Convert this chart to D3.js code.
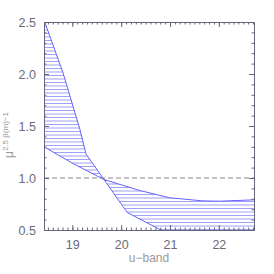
<!DOCTYPE html>
<meta charset="utf-8">
<style>

body {
  margin: 0;
  background: #fff;
}

text {
  font-family: "Liberation Sans", Arial, sans-serif;
}

</style>
<body>
<script src="https://d3js.org/d3.v7.min.js"></script>
<script>

// Curve A starts high on the left, curve B starts low; they cross near u=19.65
var curveAX = [18.42, 18.81, 19.16, 19.28, 19.65, 20.12, 20.85, 22.72];
var curveAY = [2.52, 2.01, 1.46, 1.23, 0.985, 0.67, 0.49, 0.30];
var curveBX = [18.42, 19.01, 19.65, 20.38, 20.99, 21.67, 22.02, 22.72];
var curveBY = [1.30, 1.14, 0.985, 0.88, 0.81, 0.78, 0.777, 0.79];

var xTicks = [19, 20, 21, 22];
var yTicks = [0.5, 1.0, 1.5, 2.0, 2.5];
var refLine = 1.0;

var width = 274, height = 274;
var plot = {left: 44, right: 254, top: 22, bottom: 230};

var x = d3.scaleLinear().domain([18.42, 22.72]).range([plot.left, plot.right]);
var y = d3.scaleLinear().domain([0.5, 2.5]).range([plot.bottom, plot.top]);

var axisColor = "#666677";

var svg = d3.select("body").append("svg")
            .attr("width", width)
            .attr("height", height);

var defs = svg.append("defs");
defs.append("clipPath").attr("id", "plotclip")
    .append("rect")
      .attr("x", plot.left).attr("y", plot.top)
      .attr("width", plot.right - plot.left)
      .attr("height", plot.bottom - plot.top);

var ptsA = curveAX.map(function(d, i) { return [x(d), y(curveAY[i])]; });
var ptsB = curveBX.map(function(d, i) { return [x(d), y(curveBY[i])]; });
var polygon = ptsA.concat(ptsB.slice().reverse());

defs.append("clipPath").attr("id", "bandclip")
    .append("path")
      .attr("d", "M" + polygon.join("L") + "Z");

var g = svg.append("g").attr("clip-path", "url(#plotclip)");

// horizontal line fill between the curves
var hatch = d3.range(plot.top + 1, plot.bottom, 3.5);
g.append("g")
  .attr("clip-path", "url(#bandclip)")
  .selectAll("line")
  .data(hatch)
  .enter().append("line")
    .attr("x1", plot.left).attr("x2", plot.right)
    .attr("y1", function(d) { return d; })
    .attr("y2", function(d) { return d; })
    .attr("stroke", "#a0a0ff")
    .attr("stroke-width", 1);

var line = d3.line();
g.append("path").attr("d", line(ptsA))
  .attr("fill", "none").attr("stroke", "#6262ff").attr("stroke-width", 1);
g.append("path").attr("d", line(ptsB))
  .attr("fill", "none").attr("stroke", "#6262ff").attr("stroke-width", 1);

// dashed reference line
g.append("line")
  .attr("x1", plot.left).attr("x2", plot.right)
  .attr("y1", y(refLine)).attr("y2", y(refLine))
  .attr("stroke", "#888888")
  .attr("stroke-dasharray", "5,3");

// axes: ticks pointing inward on all four sides
function addAxis(axis, transform) {
  svg.append("g")
    .attr("transform", transform)
    .call(axis)
    .call(function(sel) {
      sel.select(".domain").attr("stroke", axisColor);
      sel.selectAll(".tick line").attr("stroke", axisColor);
      sel.selectAll(".tick text").attr("fill", "#6a6a78")
         .style("font-size", "12.5px");
    });
}

var xMinor = d3.range(18.5, 22.71, 0.1).map(function(d) { return +d.toFixed(1); });
var yMinor = d3.range(0.5, 2.51, 0.1).map(function(d) { return +d.toFixed(1); });

// minor ticks first
addAxis(d3.axisBottom(x).tickValues(xMinor).tickSize(-2.5).tickSizeOuter(0).tickFormat(""),
        "translate(0," + plot.bottom + ")");
addAxis(d3.axisTop(x).tickValues(xMinor).tickSize(-2.5).tickSizeOuter(0).tickFormat(""),
        "translate(0," + plot.top + ")");
addAxis(d3.axisLeft(y).tickValues(yMinor).tickSize(-2.5).tickSizeOuter(0).tickFormat(""),
        "translate(" + plot.left + ",0)");
addAxis(d3.axisRight(y).tickValues(yMinor).tickSize(-2.5).tickSizeOuter(0).tickFormat(""),
        "translate(" + plot.right + ",0)");

// major ticks with labels
addAxis(d3.axisBottom(x).tickValues(xTicks).tickSize(-5).tickSizeOuter(0).tickPadding(10)
          .tickFormat(d3.format("d")),
        "translate(0," + plot.bottom + ")");
addAxis(d3.axisTop(x).tickValues(xTicks).tickSize(-5).tickSizeOuter(0).tickFormat(""),
        "translate(0," + plot.top + ")");
addAxis(d3.axisLeft(y).tickValues(yTicks).tickSize(-5).tickSizeOuter(0).tickPadding(8)
          .tickFormat(d3.format(".1f")),
        "translate(" + plot.left + ",0)");
addAxis(d3.axisRight(y).tickValues(yTicks).tickSize(-5).tickSizeOuter(0).tickFormat(""),
        "translate(" + plot.right + ",0)");

// axis titles
svg.append("text")
   .attr("x", (plot.left + plot.right) / 2)
   .attr("y", 262)
   .attr("text-anchor", "middle")
   .attr("fill", "#999999")
   .style("font-size", "12px")
   .text("u\u2212band");

var ylab = svg.append("text")
   .attr("transform", "translate(13,135) rotate(-90)")
   .attr("text-anchor", "middle")
   .attr("fill", "#999999")
   .style("font-size", "12px");
ylab.append("tspan").text("\u03bc");
ylab.append("tspan")
   .attr("dy", "-0.6em")
   .style("font-size", "8px")
   .text("2.5 \u03b2(m)\u22121");

</script>
